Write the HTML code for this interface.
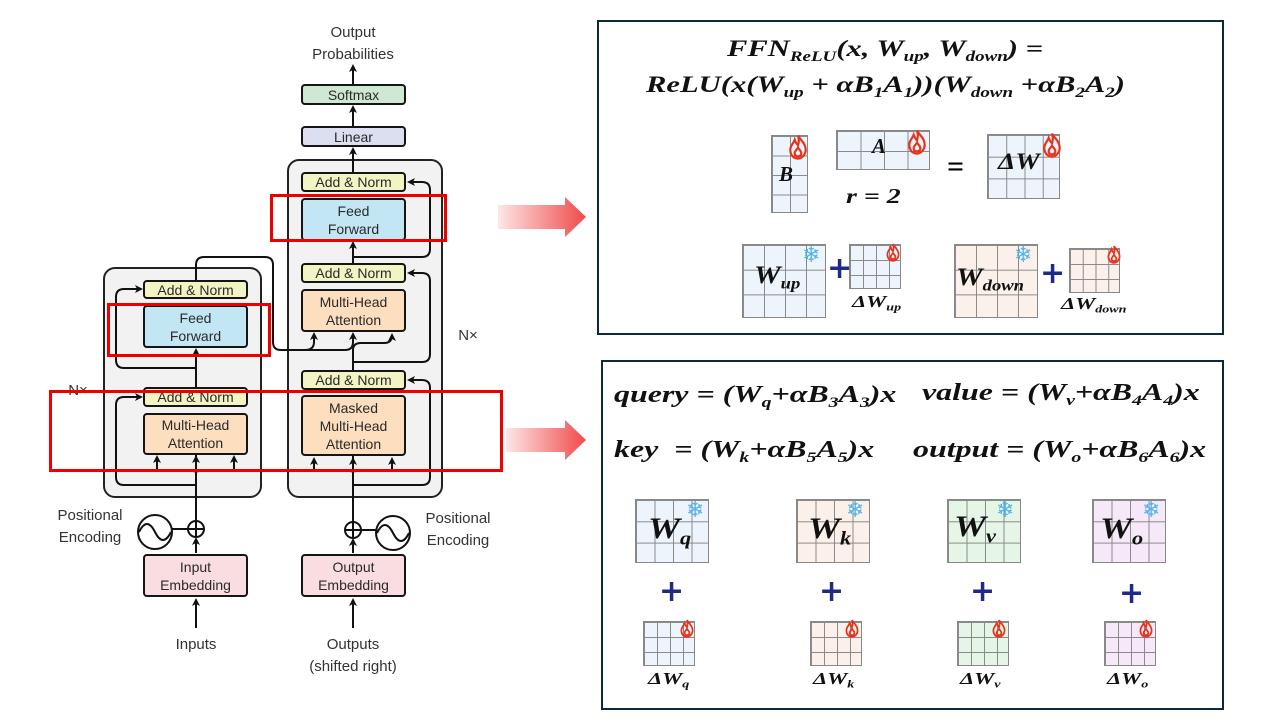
<!DOCTYPE html>
<html><head><meta charset="utf-8">
<style>
body{margin:0;width:1280px;height:720px;background:#fff;position:relative;overflow:hidden;font-family:"Liberation Sans",sans-serif}
.a{position:absolute}
.bx{position:absolute;border:2.5px solid #151515;border-radius:4px;box-sizing:border-box;display:flex;align-items:center;justify-content:center;text-align:center;font-size:14px;line-height:18px;color:#2a2a2a}
.an{background:#f2f4c4}.ff{background:#c3e6f5}.mh{background:#fddfbf}.em{background:#f9dde0}
.t{position:absolute;font-size:15px;line-height:22px;color:#333;text-align:center}
.m{position:absolute;font-family:"Liberation Serif",serif;font-weight:bold;font-style:italic;color:#111;white-space:nowrap;transform-origin:0 50%}
.m sub{font-size:62%;vertical-align:-0.35em}
.s{transform:scaleX(1.33)}
.s2{transform:scaleX(1.2)}
.g{position:absolute;box-sizing:border-box;border:1px solid #888;background-image:linear-gradient(to right,#8a8a8a 1px,transparent 1px),linear-gradient(to bottom,#8a8a8a 1px,transparent 1px)}
.bl{background-color:#eef4fc}.pe{background-color:#fcf1ea}.gr{background-color:#e6f6e6}.pu{background-color:#f6e8f8}
.pl{position:absolute;color:#1e2a8a;font-size:30px;font-weight:bold;font-family:"DejaVu Sans",sans-serif;line-height:30px}
.sn{position:absolute;color:#4fb5ea;font-family:"DejaVu Sans",sans-serif;line-height:1}
.fl{position:absolute}
.rb{position:absolute;border:3px solid #ee0000;box-sizing:border-box}
</style></head><body>

<svg class="a" style="left:0;top:0" width="600" height="720">
<defs><marker id="ar" markerWidth="8" markerHeight="8" refX="6" refY="4" orient="auto" markerUnits="userSpaceOnUse"><path d="M0,0 L8,4 L0,8 L2,4 Z" fill="#111"/></marker>
<linearGradient id="pg" x1="0" x2="1"><stop offset="0" stop-color="#fde6e6"/><stop offset="1" stop-color="#f04a4a"/></linearGradient></defs>
<rect x="104" y="268" width="157" height="229" rx="11" fill="#f2f2f2" stroke="#222" stroke-width="2"/>
<rect x="288" y="160" width="154" height="337" rx="11" fill="#f2f2f2" stroke="#222" stroke-width="2"/>
<g fill="none" stroke="#111" stroke-width="2">
<path d="M196 628 V600" marker-end="url(#ar)"/>
<path d="M196 553 V539" marker-end="url(#ar)"/>
<path d="M196 521 V413"/>
<path d="M196 472 Q196 470 157 470 L157 457" marker-end="url(#ar)"/>
<path d="M196 470 V457" marker-end="url(#ar)"/>
<path d="M196 472 Q196 470 234 470 L234 457" marker-end="url(#ar)"/>
<path d="M196 485 H124 Q116 485 116 477 V405 Q116 397 124 397 H141" marker-end="url(#ar)"/>
<path d="M196 387 V350" marker-end="url(#ar)"/>
<path d="M196 368 H124 Q116 368 116 360 V297 Q116 289 124 289 H141" marker-end="url(#ar)"/>
<path d="M196 280 V265 Q196 257 204 257 H265 Q273 257 273 265 V342 Q273 350 281 350 H305 Q314 350 314 342 V334" marker-end="url(#ar)"/>
<path d="M300 350 H345 Q353 350 353 342 V334" marker-end="url(#ar)"/>
<circle cx="196" cy="529" r="8" fill="#fff"/><path d="M188 529 H204 M196 521 V537"/>
<path d="M172 529 H188"/>
<circle cx="155" cy="532" r="17"/><path d="M139 532 Q147 516 155 532 Q163 548 171 532"/>
<path d="M353 628 V600" marker-end="url(#ar)"/>
<path d="M353 553 V540" marker-end="url(#ar)"/>
<path d="M353 522 V396"/>
<path d="M353 472 Q353 470 314 470 L314 459" marker-end="url(#ar)"/>
<path d="M353 470 V459" marker-end="url(#ar)"/>
<path d="M353 472 Q353 470 392 470 L392 459" marker-end="url(#ar)"/>
<path d="M353 485 H422 Q430 485 430 477 V388 Q430 380 422 380 H409" marker-end="url(#ar)"/>
<path d="M353 370 V350 Q353 343 361 343 H384 Q392 343 392 335" marker-end="url(#ar)"/>
<path d="M353 362 H422 Q430 362 430 354 V281 Q430 273 422 273 H409" marker-end="url(#ar)"/>
<path d="M353 263 V243" marker-end="url(#ar)"/>
<path d="M353 257 H422 Q430 257 430 249 V190 Q430 182 422 182 H409" marker-end="url(#ar)"/>
<path d="M353 172 V149" marker-end="url(#ar)"/>
<path d="M353 126 V107" marker-end="url(#ar)"/>
<path d="M353 84 V66" marker-end="url(#ar)"/>
<circle cx="353" cy="530" r="8" fill="#fff"/><path d="M345 530 H361 M353 522 V538"/>
<path d="M361 530 H376"/>
<circle cx="393" cy="533" r="17"/><path d="M377 533 Q385 517 393 533 Q401 549 409 533"/>
</g>
<polygon points="498,205 565,205 565,197 586,217 565,237 565,229 498,229" fill="url(#pg)"/>
<polygon points="506,428 565,428 565,420 586,440 565,460 565,452 506,452" fill="url(#pg)"/>
</svg>

<div class="bx an" style="left:143px;top:280px;width:105px;height:19px">Add &amp; Norm</div>
<div class="bx ff" style="left:143px;top:305px;width:105px;height:43px">Feed<br>Forward</div>
<div class="bx an" style="left:143px;top:387px;width:105px;height:20px">Add &amp; Norm</div>
<div class="bx mh" style="left:143px;top:413px;width:105px;height:42px">Multi-Head<br>Attention</div>
<div class="bx em" style="left:143px;top:554px;width:105px;height:43px">Input<br>Embedding</div>

<div class="bx" style="left:301px;top:84px;width:105px;height:21px;background:#cfe8d3">Softmax</div>
<div class="bx" style="left:301px;top:126px;width:105px;height:21px;background:#dcdff0">Linear</div>
<div class="bx an" style="left:301px;top:172px;width:105px;height:20px">Add &amp; Norm</div>
<div class="bx ff" style="left:301px;top:198px;width:105px;height:43px">Feed<br>Forward</div>
<div class="bx an" style="left:301px;top:263px;width:105px;height:20px">Add &amp; Norm</div>
<div class="bx mh" style="left:301px;top:289px;width:105px;height:43px">Multi-Head<br>Attention</div>
<div class="bx an" style="left:301px;top:370px;width:105px;height:20px">Add &amp; Norm</div>
<div class="bx mh" style="left:301px;top:395px;width:105px;height:61px">Masked<br>Multi-Head<br>Attention</div>
<div class="bx em" style="left:301px;top:554px;width:105px;height:43px">Output<br>Embedding</div>

<div class="t" style="left:293px;top:22px;width:120px">Output<br>Probabilities</div>
<div class="t" style="left:40px;top:505px;width:100px">Positional<br>Encoding</div>
<div class="t" style="left:408px;top:508px;width:100px">Positional<br>Encoding</div>
<div class="t" style="left:146px;top:634px;width:100px">Inputs</div>
<div class="t" style="left:293px;top:634px;width:120px">Outputs<br>(shifted right)</div>
<div class="t" style="left:60px;top:380px;width:36px">N×</div>
<div class="t" style="left:450px;top:325px;width:36px">N×</div>

<div class="rb" style="left:270px;top:194px;width:177px;height:48px"></div>
<div class="rb" style="left:107px;top:303px;width:164px;height:54px"></div>
<div class="rb" style="left:49px;top:390px;width:454px;height:82px"></div>

<div class="a" style="left:597px;top:20px;width:627px;height:315px;border:2px solid #0e2a3a;box-sizing:border-box"></div>
<div class="m s" style="left:727px;top:36px;font-size:23px">FFN<sub>ReLU</sub>(x, W<sub>up</sub>, W<sub>down</sub>) =</div>
<div class="m s" style="left:646px;top:72px;font-size:23px">ReLU(x(W<sub>up</sub> + αB<sub>1</sub>A<sub>1</sub>))(W<sub>down</sub> +αB<sub>2</sub>A<sub>2</sub>)</div>

<div class="g bl" style="left:771px;top:135px;width:37px;height:78px;background-size:18px 19.5px"></div>
<div class="m" style="left:779px;top:162px;font-size:21px">B</div>
<div class="g bl" style="left:836px;top:130px;width:94px;height:40px;background-size:23.5px 20px"></div>
<div class="m" style="left:872px;top:134px;font-size:21px">A</div>
<div class="m s" style="left:846px;top:184px;font-size:21px">r = 2</div>
<div class="a" style="left:947px;top:150px;font-size:30px;font-family:'Liberation Serif',serif;font-weight:bold">=</div>
<div class="g bl" style="left:987px;top:134px;width:73px;height:65px;background-size:18.25px 21.7px"></div>
<div class="m s2" style="left:998px;top:149px;font-size:23px">ΔW</div>

<div class="g bl" style="left:742px;top:244px;width:84px;height:74px;background-size:21px 24.7px"></div>
<div class="m s2" style="left:754px;top:262px;font-size:25px">W<sub>up</sub></div>
<div class="pl" style="left:827px;top:254px">+</div>
<div class="g bl" style="left:849px;top:244px;width:52px;height:45px;background-size:13px 15px"></div>
<div class="m s" style="left:852px;top:292px;font-size:17px">ΔW<sub>up</sub></div>
<div class="g pe" style="left:954px;top:244px;width:84px;height:74px;background-size:21px 24.7px"></div>
<div class="m s2" style="left:956px;top:264px;font-size:25px">W<sub>down</sub></div>
<div class="pl" style="left:1040px;top:259px">+</div>
<div class="g pe" style="left:1069px;top:248px;width:51px;height:45px;background-size:12.75px 15px"></div>
<div class="m s" style="left:1061px;top:294px;font-size:17px">ΔW<sub>down</sub></div>

<div class="sn" style="left:802px;top:245px;font-size:22px">❄</div>
<div class="sn" style="left:1014px;top:245px;font-size:22px">❄</div>

<div class="a" style="left:601px;top:360px;width:623px;height:350px;border:2px solid #0e2a3a;box-sizing:border-box"></div>
<div class="m s" style="left:614px;top:382px;font-size:24px">query = (W<sub>q</sub>+αB<sub>3</sub>A<sub>3</sub>)x</div>
<div class="m s" style="left:922px;top:380px;font-size:24px">value = (W<sub>v</sub>+αB<sub>4</sub>A<sub>4</sub>)x</div>
<div class="m s" style="left:614px;top:437px;font-size:24px">key&nbsp; = (W<sub>k</sub>+αB<sub>5</sub>A<sub>5</sub>)x</div>
<div class="m s" style="left:913px;top:437px;font-size:24px">output = (W<sub>o</sub>+αB<sub>6</sub>A<sub>6</sub>)x</div>

<div class="g bl" style="left:635px;top:499px;width:74px;height:64px;background-size:18.5px 21.3px"></div>
<div class="g pe" style="left:796px;top:499px;width:74px;height:64px;background-size:18.5px 21.3px"></div>
<div class="g gr" style="left:947px;top:499px;width:74px;height:64px;background-size:18.5px 21.3px"></div>
<div class="g pu" style="left:1092px;top:499px;width:74px;height:64px;background-size:18.5px 21.3px"></div>
<div class="m s2" style="left:648px;top:512px;font-size:30px">W<sub>q</sub></div>
<div class="m s2" style="left:808px;top:512px;font-size:30px">W<sub>k</sub></div>
<div class="m s2" style="left:954px;top:510px;font-size:30px">W<sub>v</sub></div>
<div class="m s2" style="left:1100px;top:512px;font-size:30px">W<sub>o</sub></div>
<div class="sn" style="left:686px;top:500px;font-size:22px">❄</div>
<div class="sn" style="left:846px;top:500px;font-size:22px">❄</div>
<div class="sn" style="left:996px;top:500px;font-size:22px">❄</div>
<div class="sn" style="left:1142px;top:500px;font-size:22px">❄</div>

<div class="pl" style="left:659px;top:577px">+</div>
<div class="pl" style="left:819px;top:577px">+</div>
<div class="pl" style="left:970px;top:577px">+</div>
<div class="pl" style="left:1119px;top:579px">+</div>

<div class="g bl" style="left:643px;top:621px;width:52px;height:45px;background-size:13px 15px"></div>
<div class="g pe" style="left:810px;top:621px;width:52px;height:45px;background-size:13px 15px"></div>
<div class="g gr" style="left:957px;top:621px;width:52px;height:45px;background-size:13px 15px"></div>
<div class="g pu" style="left:1104px;top:621px;width:52px;height:45px;background-size:13px 15px"></div>
<div class="m s" style="left:648px;top:669px;font-size:17px">ΔW<sub>q</sub></div>
<div class="m s" style="left:813px;top:669px;font-size:17px">ΔW<sub>k</sub></div>
<div class="m s" style="left:960px;top:669px;font-size:17px">ΔW<sub>v</sub></div>
<div class="m s" style="left:1107px;top:669px;font-size:17px">ΔW<sub>o</sub></div>

<svg class="fl" style="left:787px;top:133px" width="22" height="27" viewBox="0 0 20 24"><g fill="none" stroke="#e8331c" stroke-width="2"><path d="M10 2 C12 6 17 9 17 15 C17 20 13 23 10 23 C6 23 3 20 3 15 C3 11 6 9 7 6 C8 9 9 10 10 11 C11 8 11 5 10 2 Z"/><path d="M10 21 C8 21 7 20 7 18 C7 16 9 15 10 13 C11 15 13 16 13 18 C13 20 12 21 10 21Z"/></g></svg>
<svg class="fl" style="left:906px;top:128px" width="22" height="27" viewBox="0 0 20 24"><g fill="none" stroke="#e8331c" stroke-width="2"><path d="M10 2 C12 6 17 9 17 15 C17 20 13 23 10 23 C6 23 3 20 3 15 C3 11 6 9 7 6 C8 9 9 10 10 11 C11 8 11 5 10 2 Z"/><path d="M10 21 C8 21 7 20 7 18 C7 16 9 15 10 13 C11 15 13 16 13 18 C13 20 12 21 10 21Z"/></g></svg>
<svg class="fl" style="left:1041px;top:131px" width="22" height="27" viewBox="0 0 20 24"><g fill="none" stroke="#e8331c" stroke-width="2"><path d="M10 2 C12 6 17 9 17 15 C17 20 13 23 10 23 C6 23 3 20 3 15 C3 11 6 9 7 6 C8 9 9 10 10 11 C11 8 11 5 10 2 Z"/><path d="M10 21 C8 21 7 20 7 18 C7 16 9 15 10 13 C11 15 13 16 13 18 C13 20 12 21 10 21Z"/></g></svg>
<svg class="fl" style="left:885px;top:242px" width="16" height="20" viewBox="0 0 20 24"><g fill="none" stroke="#e8331c" stroke-width="2.2"><path d="M10 2 C12 6 17 9 17 15 C17 20 13 23 10 23 C6 23 3 20 3 15 C3 11 6 9 7 6 C8 9 9 10 10 11 C11 8 11 5 10 2 Z"/><path d="M10 21 C8 21 7 20 7 18 C7 16 9 15 10 13 C11 15 13 16 13 18 C13 20 12 21 10 21Z"/></g></svg>
<svg class="fl" style="left:1106px;top:244px" width="16" height="20" viewBox="0 0 20 24"><g fill="none" stroke="#e8331c" stroke-width="2.2"><path d="M10 2 C12 6 17 9 17 15 C17 20 13 23 10 23 C6 23 3 20 3 15 C3 11 6 9 7 6 C8 9 9 10 10 11 C11 8 11 5 10 2 Z"/><path d="M10 21 C8 21 7 20 7 18 C7 16 9 15 10 13 C11 15 13 16 13 18 C13 20 12 21 10 21Z"/></g></svg>
<svg class="fl" style="left:679px;top:618px" width="16" height="20" viewBox="0 0 20 24"><g fill="none" stroke="#e8331c" stroke-width="2.2"><path d="M10 2 C12 6 17 9 17 15 C17 20 13 23 10 23 C6 23 3 20 3 15 C3 11 6 9 7 6 C8 9 9 10 10 11 C11 8 11 5 10 2 Z"/><path d="M10 21 C8 21 7 20 7 18 C7 16 9 15 10 13 C11 15 13 16 13 18 C13 20 12 21 10 21Z"/></g></svg>
<svg class="fl" style="left:844px;top:618px" width="16" height="20" viewBox="0 0 20 24"><g fill="none" stroke="#e8331c" stroke-width="2.2"><path d="M10 2 C12 6 17 9 17 15 C17 20 13 23 10 23 C6 23 3 20 3 15 C3 11 6 9 7 6 C8 9 9 10 10 11 C11 8 11 5 10 2 Z"/><path d="M10 21 C8 21 7 20 7 18 C7 16 9 15 10 13 C11 15 13 16 13 18 C13 20 12 21 10 21Z"/></g></svg>
<svg class="fl" style="left:991px;top:618px" width="16" height="20" viewBox="0 0 20 24"><g fill="none" stroke="#e8331c" stroke-width="2.2"><path d="M10 2 C12 6 17 9 17 15 C17 20 13 23 10 23 C6 23 3 20 3 15 C3 11 6 9 7 6 C8 9 9 10 10 11 C11 8 11 5 10 2 Z"/><path d="M10 21 C8 21 7 20 7 18 C7 16 9 15 10 13 C11 15 13 16 13 18 C13 20 12 21 10 21Z"/></g></svg>
<svg class="fl" style="left:1138px;top:618px" width="16" height="20" viewBox="0 0 20 24"><g fill="none" stroke="#e8331c" stroke-width="2.2"><path d="M10 2 C12 6 17 9 17 15 C17 20 13 23 10 23 C6 23 3 20 3 15 C3 11 6 9 7 6 C8 9 9 10 10 11 C11 8 11 5 10 2 Z"/><path d="M10 21 C8 21 7 20 7 18 C7 16 9 15 10 13 C11 15 13 16 13 18 C13 20 12 21 10 21Z"/></g></svg>
</body></html>
